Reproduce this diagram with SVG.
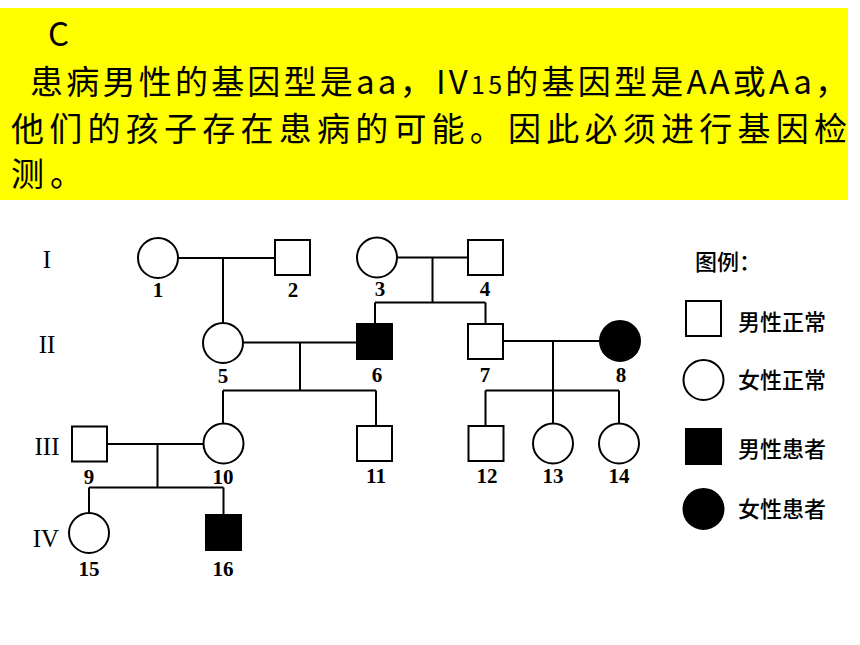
<svg xmlns="http://www.w3.org/2000/svg" width="860" height="645" viewBox="0 0 860 645">
<style>
.note{font-family:"Noto Sans CJK SC","Noto Sans",sans-serif;font-size:33px;font-weight:normal;fill:#000}
.gen{font-family:"Liberation Serif",serif;font-size:25px;fill:#000;text-anchor:middle}
.num{font-family:"Liberation Serif",serif;font-size:21px;font-weight:bold;fill:#000;text-anchor:middle}
.leg{font-family:"Noto Sans CJK SC",sans-serif;font-size:22px;font-weight:500;fill:#000}
.n{fill:#fff;stroke:#000;stroke-width:2}
.a{fill:#000;stroke:#000;stroke-width:2}
.ln{fill:none;stroke:#000;stroke-width:2}
</style>
<rect width="860" height="645" fill="#fff"/>
<g id="note">
<rect x="0" y="8" width="848" height="192" fill="#ffff00"/>
<text class="note" x="48" y="46" font-size="28">C</text>
<text class="note" x="30" y="94" textLength="818" lengthAdjust="spacing">患病男性的基因型是aa，IV<tspan font-size="25">15</tspan>的基因型是AA或Aa，</text>
<text class="note" x="11" y="141" textLength="836" lengthAdjust="spacing">他们的孩子存在患病的可能。因此必须进行基因检</text>
<text class="note" x="11" y="186" textLength="72" lengthAdjust="spacing">测。</text>
</g>
<g id="generations">
<text class="gen" x="47" y="268">I</text>
<text class="gen" x="47" y="353">II</text>
<text class="gen" x="47" y="455">III</text>
<text class="gen" x="46" y="547">IV</text>
</g>
<g id="connectors">
<path class="ln" d="M178 258H275M223 258V323"/>
<path class="ln" d="M397 257.5H468M432.5 257.5V302.5M375 302.5H485.5M375 302.5V324M485.5 302.5V324"/>
<path class="ln" d="M243 342.5H357M300 342.5V390.5M223 390.5H376M223 390.5V423.5M376 390.5V426"/>
<path class="ln" d="M503 341H600M553 341V390.5M485.5 390.5H619M485.5 390.5V426M553 390.5V423.5M619 390.5V423.5"/>
<path class="ln" d="M107 444H203M157.5 444V487.5M89 487.5H223.5M89 487.5V513M223.5 487.5V515"/>
</g>
<g id="n1"><circle class="n" cx="158" cy="258" r="20"/><text class="num" x="158" y="297">1</text></g>
<g id="n2"><rect class="n" x="275" y="240" width="35" height="35"/><text class="num" x="293" y="297">2</text></g>
<g id="n3"><circle class="n" cx="377" cy="257.5" r="20"/><text class="num" x="380" y="296">3</text></g>
<g id="n4"><rect class="n" x="468" y="240" width="35" height="35"/><text class="num" x="485" y="296">4</text></g>
<g id="n5"><circle class="n" cx="223" cy="343" r="20"/><text class="num" x="223" y="383">5</text></g>
<g id="n6"><rect class="a" x="357" y="324" width="35" height="35"/><text class="num" x="377" y="382">6</text></g>
<g id="n7"><rect class="n" x="468" y="324" width="35" height="35"/><text class="num" x="485" y="382">7</text></g>
<g id="n8"><circle class="a" cx="620" cy="341" r="20"/><text class="num" x="621" y="382">8</text></g>
<g id="n9"><rect class="n" x="72" y="426.5" width="35" height="35"/><text class="num" x="89" y="484">9</text></g>
<g id="n10"><circle class="n" cx="223.5" cy="443.5" r="20"/><text class="num" x="223" y="484">10</text></g>
<g id="n11"><rect class="n" x="357" y="426" width="35" height="35"/><text class="num" x="376" y="483">11</text></g>
<g id="n12"><rect class="n" x="468.5" y="426" width="35" height="35"/><text class="num" x="487" y="483">12</text></g>
<g id="n13"><circle class="n" cx="553" cy="443.5" r="20"/><text class="num" x="553" y="483">13</text></g>
<g id="n14"><circle class="n" cx="619" cy="443.5" r="20"/><text class="num" x="619" y="483">14</text></g>
<g id="n15"><circle class="n" cx="89" cy="533" r="20"/><text class="num" x="89" y="576">15</text></g>
<g id="n16"><rect class="a" x="206" y="515" width="35" height="35"/><text class="num" x="223" y="576">16</text></g>
<g id="legend">
<text class="leg" x="695" y="270" font-size="19" font-weight="bold">图例：</text>
<rect class="n" x="686" y="301" width="35" height="35"/>
<text class="leg" x="738" y="330">男性正常</text>
<circle class="n" cx="703.5" cy="380" r="20"/>
<text class="leg" x="738" y="388">女性正常</text>
<rect class="a" x="686" y="429" width="35" height="35"/>
<text class="leg" x="738" y="457">男性患者</text>
<circle class="a" cx="703.5" cy="509" r="20"/>
<text class="leg" x="738" y="517">女性患者</text>
</g>
</svg>
